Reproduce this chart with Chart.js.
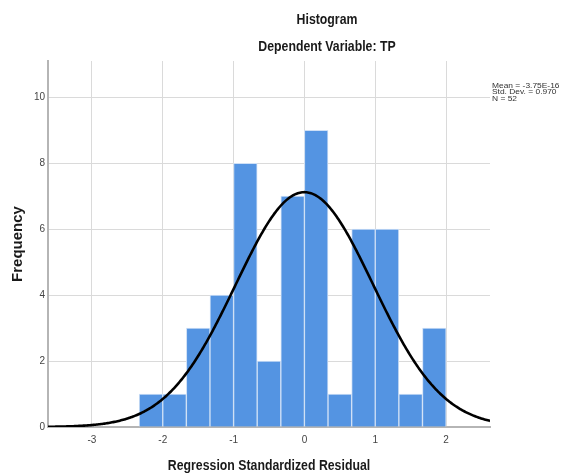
<!DOCTYPE html>
<html>
<head>
<meta charset="utf-8">
<script src="https://cdn.jsdelivr.net/npm/chart.js@4/dist/chart.umd.min.js"></script>
<style>
html,body{margin:0;padding:0;background:#ffffff;}
#wrap{width:566px;height:475px;position:relative;}
</style>
</head>
<body>
<div id="wrap"><canvas id="c" width="566" height="475"></canvas></div>
<script>
// ---- data ----
const binEdges = [-2.333, -2.000, -1.667, -1.333, -1.000, -0.667, -0.333, 0.000, 0.333, 0.667, 1.000, 1.333, 1.667, 2.000];
const frequencies = [1, 1, 3, 4, 8, 2, 7, 9, 1, 6, 6, 1, 3];
const xTicks = [-3, -2, -1, 0, 1, 2];
const yTicks = [0, 2, 4, 6, 8, 10];
const meanValue = -3.75e-16;
const stdDev = 0.970;
const nCases = 52;
const statsLabels = ["Mean = -3.75E-16", "Std. Dev. = 0.970", "N = 52"];
const chartTitle = "Histogram";
const chartSubtitle = "Dependent Variable: TP";
const xTitle = "Regression Standardized Residual";
const yTitle = "Frequency";
const xRange = [-3.62, 2.62];
const yRange = [0, 11.1];

// ---- derived structures ----
const binWidth = binEdges[1] - binEdges[0];
const barData = frequencies.map((f, i) => ({ x: (binEdges[i] + binEdges[i + 1]) / 2, y: f }));
// fitted normal curve defined by the reported mean / std. dev. / N
const curveData = [];
for (let k = 0; k <= 400; k++) {
  const x = xRange[0] + (xRange[1] - xRange[0]) * k / 400;
  const z = (x - meanValue) / stdDev;
  curveData.push({ x: x, y: nCases * binWidth * Math.exp(-0.5 * z * z) / (stdDev * Math.sqrt(2 * Math.PI)) });
}

const REG = '"Liberation Sans", Arial, sans-serif';
const SQUEEZE = 0.82;

function squeezedText(ctx, text, cx, cy, font, sx, align) {
  ctx.save();
  ctx.font = font;
  ctx.textAlign = align || 'center';
  ctx.textBaseline = 'middle';
  ctx.translate(cx, cy);
  ctx.scale(sx, 1);
  ctx.fillText(text, 0, 0);
  ctx.restore();
}

const textPlugin = {
  id: 'texts',
  afterDraw(chart) {
    const ctx = chart.ctx;
    const ca = chart.chartArea;
    ctx.save();
    ctx.fillStyle = '#1a1a1a';
    squeezedText(ctx, chartTitle, 327, 20, 'bold 15px ' + REG, SQUEEZE);
    squeezedText(ctx, chartSubtitle, 327, 47, 'bold 15px ' + REG, SQUEEZE);
    squeezedText(ctx, xTitle, (ca.left + ca.right) / 2, 466, 'bold 15px ' + REG, SQUEEZE);
    ctx.fillStyle = '#333';
    statsLabels.forEach((t, i) => squeezedText(ctx, t, ca.right + 2, 86 + i * 6.4, '7.5px ' + REG, 1.12, 'left'));
    ctx.restore();
  }
};

new Chart(document.getElementById('c'), {
  type: 'bar',
  data: {
    datasets: [
      {
        type: 'line',
        data: curveData,
        borderColor: '#000000',
        borderWidth: 2.6,
        pointRadius: 0,
        fill: false,
        tension: 0,
        order: 0
      },
      {
        type: 'bar',
        data: barData,
        backgroundColor: '#5494e2',
        borderColor: '#cfe0f6',
        borderWidth: 1,
        barPercentage: 1,
        categoryPercentage: 1,
        order: 1
      }
    ]
  },
  options: {
    responsive: false,
    animation: false,
    devicePixelRatio: 1,
    layout: { padding: { top: 61, right: 76, bottom: 0, left: 0 } },
    plugins: { legend: { display: false }, tooltip: { enabled: false } },
    scales: {
      x: {
        type: 'linear',
        offset: false,
        min: xRange[0],
        max: xRange[1],
        afterFit(s) { s.height = 48; },
        afterBuildTicks(s) { s.ticks = xTicks.map(v => ({ value: v })); },
        ticks: {
          stepSize: 1,
          includeBounds: false,
          padding: 7,
          color: '#444',
          font: { family: REG, size: 10 }
        },
        grid: { color: '#dadada', lineWidth: 1, drawTicks: false, offset: false },
        border: { color: '#b5b5b5', width: 2 },
        title: { display: false, text: xTitle }
      },
      y: {
        type: 'linear',
        min: yRange[0],
        max: yRange[1],
        afterFit(s) { s.width = 48; },
        afterBuildTicks(s) { s.ticks = yTicks.map(v => ({ value: v })); },
        ticks: {
          stepSize: 2,
          includeBounds: false,
          padding: 3,
          color: '#444',
          font: { family: REG, size: 10 }
        },
        grid: { color: '#dadada', lineWidth: 1, drawTicks: false },
        border: { color: '#b5b5b5', width: 2 },
        title: {
          display: true,
          text: yTitle,
          color: '#1a1a1a',
          font: { family: REG, size: 15, weight: 'bold' },
          padding: { top: 9, bottom: 0 }
        }
      }
    }
  },
  plugins: [textPlugin]
});
</script>
</body>
</html>
